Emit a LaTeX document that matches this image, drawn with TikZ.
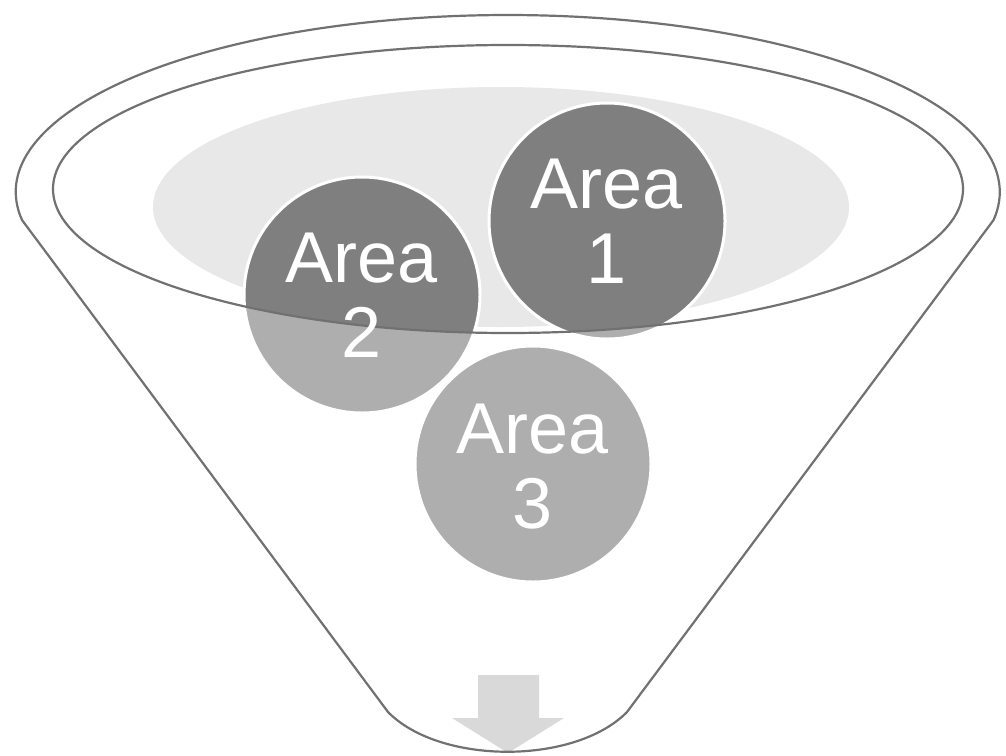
\documentclass[tikz,border=0pt]{standalone}
\usepackage{fontspec}
\setmainfont{Liberation Sans}
\definecolor{circ}{HTML}{7F7F7F}
\definecolor{pool}{HTML}{E8E8E8}
\definecolor{rim}{HTML}{717171}
\definecolor{arr}{HTML}{D9D9D9}
\tikzset{
  area/.style={circle, minimum size=236pt, inner sep=0pt, fill=circ, draw=white, line width=3pt},
  areatext/.style={text=white, align=center, font=\fontsize{72pt}{75pt}\selectfont},
  outline/.style={draw=rim, line width=2.2pt},
}
\begin{document}
\begin{tikzpicture}[x=1pt,y=-1pt]
\useasboundingbox (0,0) rectangle (1006,755);
% pool
\fill[pool] (501,207) ellipse [x radius=348, y radius=120];
% circles
\node[area] (c1) at (607,221) {};
\node[area] (c2) at (362,295) {};
\node[area] (c3) at (533,464) {};
% translucent funnel body
\fill[white, fill opacity=0.37, even odd rule]
  (22,220) arc[start angle=170.9, end angle=369.1, x radius=492, y radius=177]
  -- (627,712) .. controls (575,765) and (440,765) .. (388,712) -- cycle
  (508,189) ellipse [x radius=455, y radius=144];
% arrow
\fill[arr] (478,675) -- (539,675) -- (539,718) -- (564,718) -- (508,753) -- (452,718) -- (478,718) -- cycle;
% outlines
\path[outline]
  (22,220) arc[start angle=170.9, end angle=369.1, x radius=492, y radius=177]
  -- (627,712) .. controls (575,765) and (440,765) .. (388,712) -- cycle;
\path[outline] (508,189) ellipse [x radius=455, y radius=144];
% labels
\node[areatext] (t1) at (c1) {Area\\1};
\node[areatext] (t2) at (c2) {Area\\2};
\node[areatext] (t3) at ([yshift=-3pt]c3) {Area\\3};
\end{tikzpicture}
\end{document}
